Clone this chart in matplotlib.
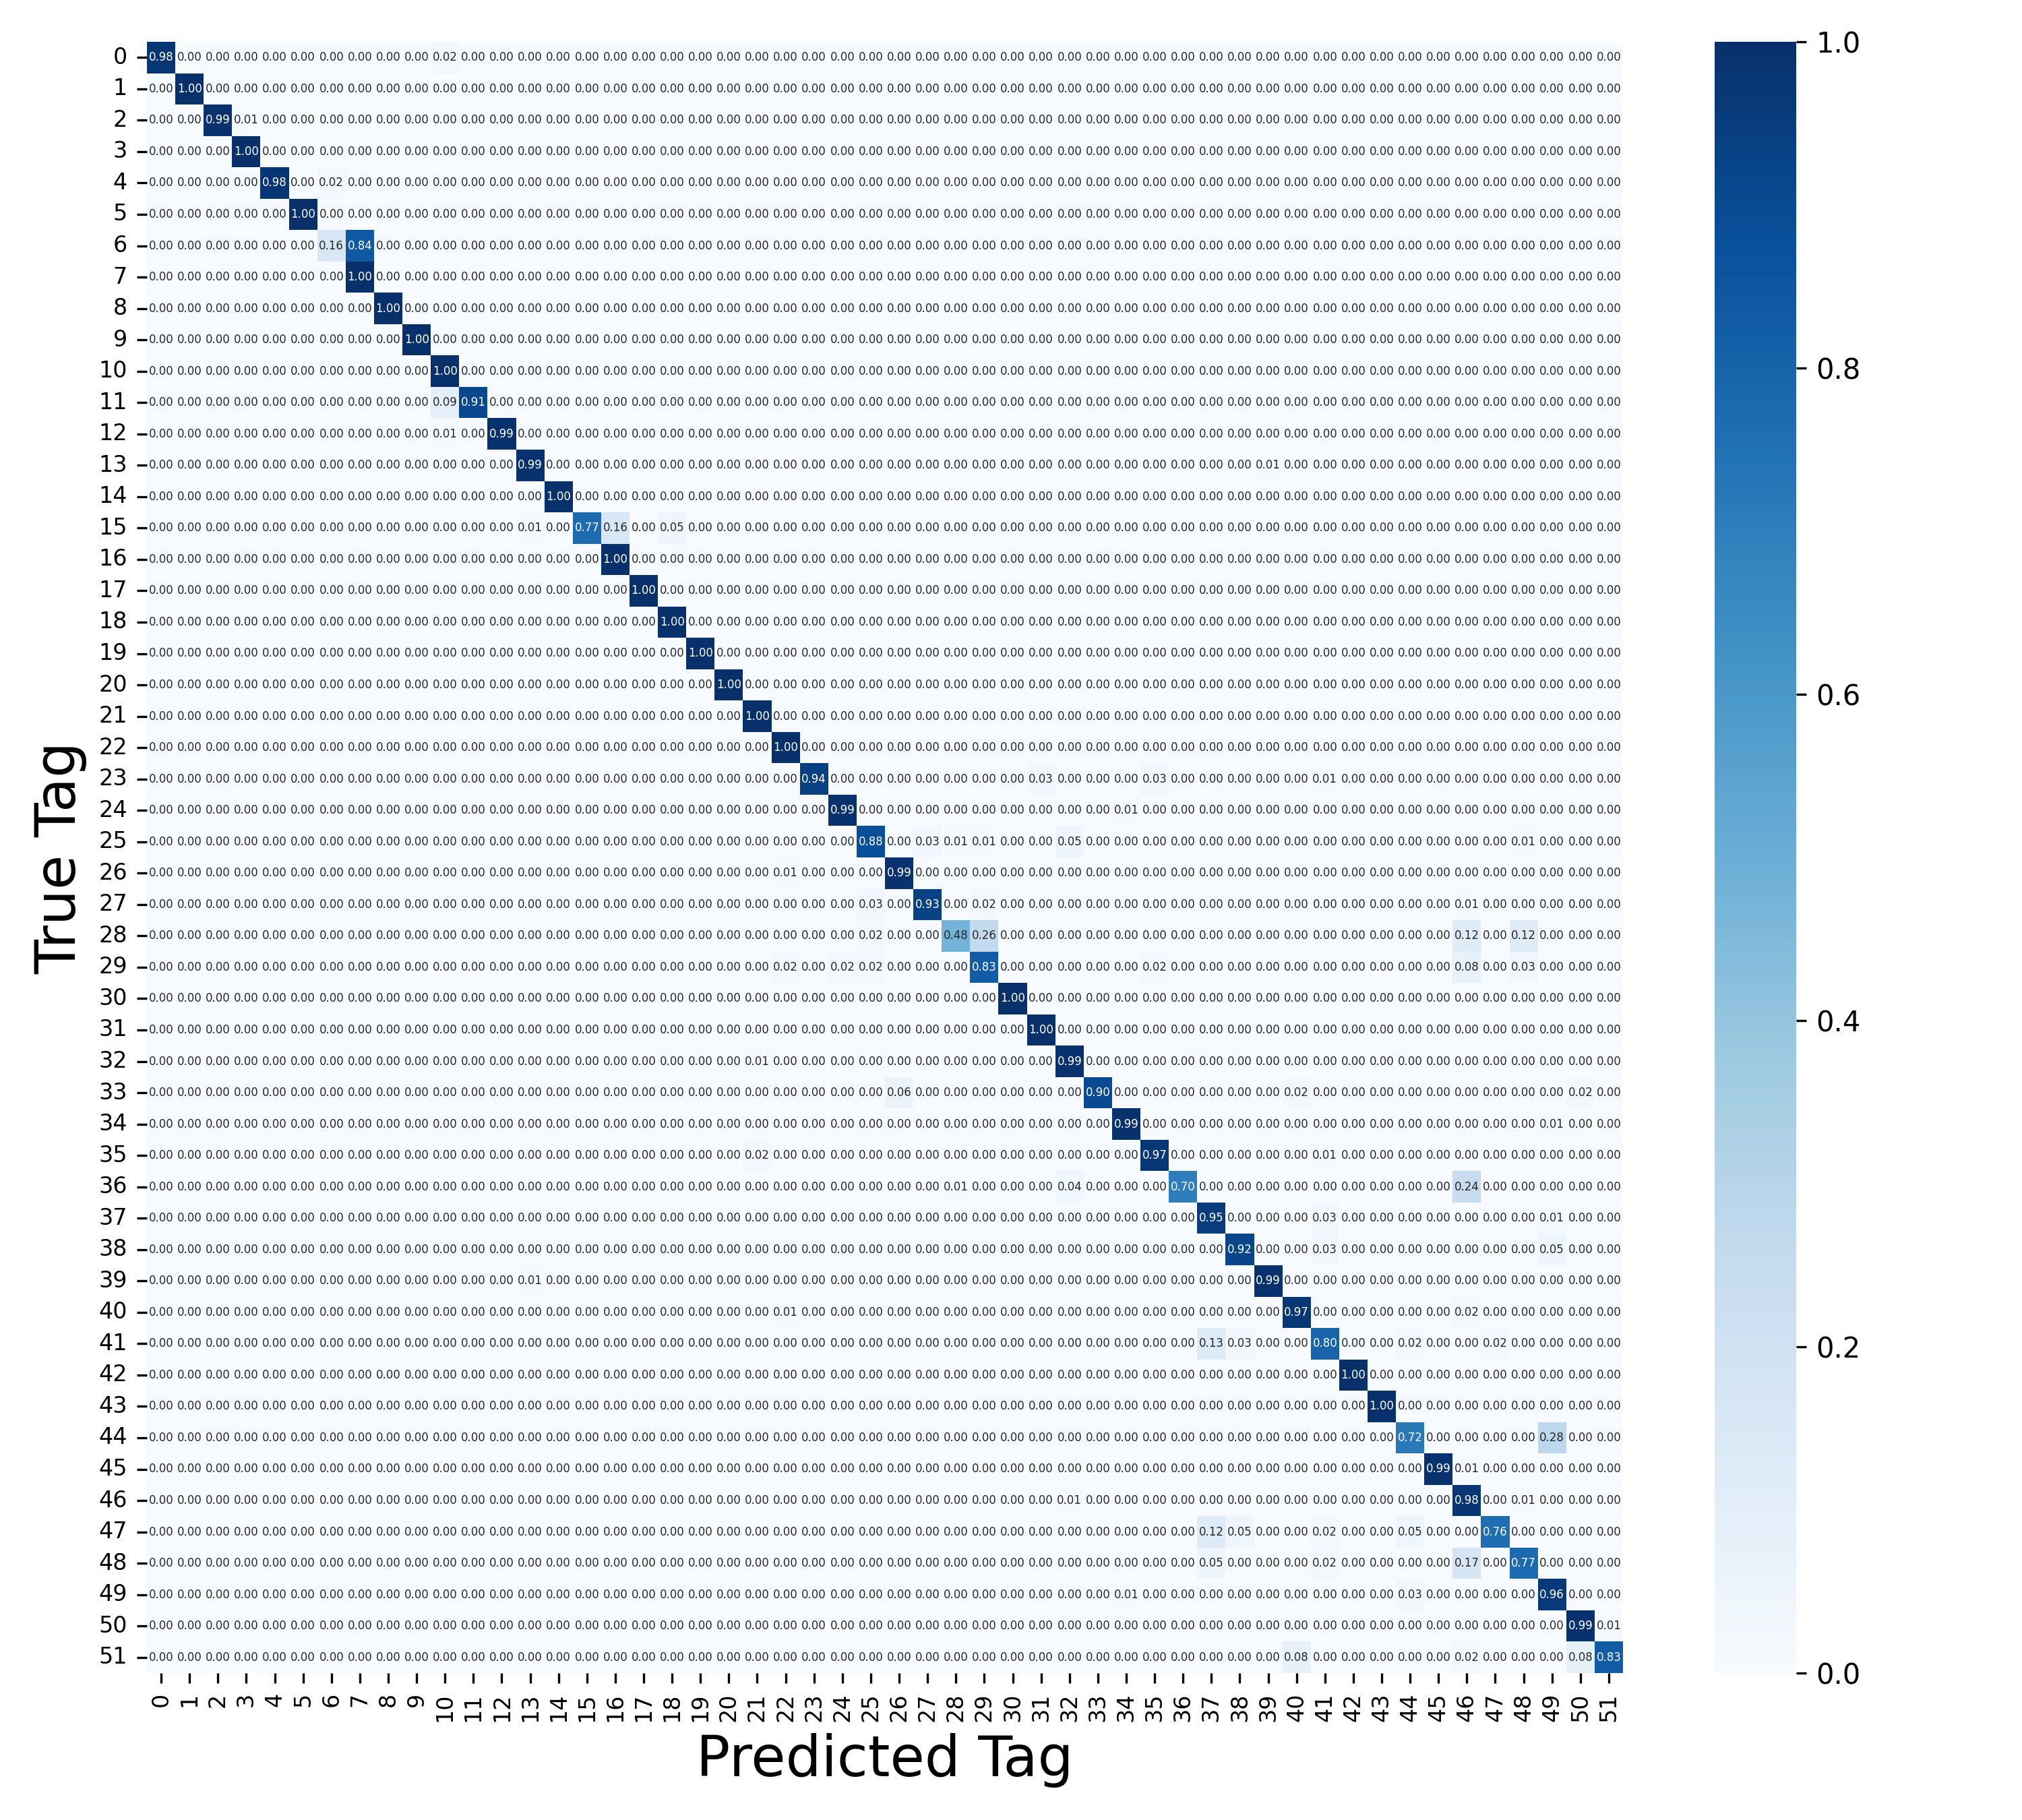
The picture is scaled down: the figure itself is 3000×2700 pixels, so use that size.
import matplotlib
matplotlib.use('Agg')
import matplotlib.pyplot as plt
import numpy as np
import seaborn as sns

tags = [str(i) for i in range(52)]

diagonal = [0.98, 1.00, 0.99, 1.00, 0.98, 1.00, 0.16, 1.00, 1.00, 1.00, 1.00, 0.91, 0.99,
            0.99, 1.00, 0.77, 1.00, 1.00, 1.00, 1.00, 1.00, 1.00, 1.00, 0.94, 0.99, 0.88,
            0.99, 0.93, 0.48, 0.83, 1.00, 1.00, 0.99, 0.90, 0.99, 0.97, 0.70, 0.95, 0.92,
            0.99, 0.97, 0.80, 1.00, 1.00, 0.72, 0.99, 0.98, 0.76, 0.77, 0.96, 0.99, 0.83]

# confusions outside the diagonal, everything else is 0
off_rows = [0, 2, 4, 6, 11, 12, 13, 15, 15, 15, 23, 23, 23, 24, 25, 25, 25, 25, 25,
            26, 27, 27, 27, 28, 28, 28, 28, 29, 29, 29, 29, 29, 29, 32, 33, 33, 33,
            34, 35, 35, 36, 36, 36, 37, 37, 38, 38, 39, 40, 40, 41, 41, 41, 41,
            44, 45, 46, 46, 47, 47, 47, 47, 48, 48, 48, 49, 49, 50, 51, 51, 51]
off_cols = [10, 3, 6, 7, 10, 10, 39, 13, 16, 18, 31, 35, 41, 34, 27, 28, 29, 32, 48,
            22, 25, 29, 46, 25, 29, 46, 48, 22, 24, 25, 35, 46, 48, 21, 26, 40, 50,
            49, 21, 41, 28, 32, 46, 41, 49, 41, 49, 13, 22, 46, 37, 38, 44, 47,
            49, 46, 32, 48, 37, 38, 41, 44, 37, 41, 46, 34, 44, 51, 40, 46, 50]
off_vals = [0.02, 0.01, 0.02, 0.84, 0.09, 0.01, 0.01, 0.01, 0.16, 0.05, 0.03, 0.03, 0.01,
            0.01, 0.03, 0.01, 0.01, 0.05, 0.01, 0.01, 0.03, 0.02, 0.01, 0.02, 0.26, 0.12,
            0.12, 0.02, 0.02, 0.02, 0.02, 0.08, 0.03, 0.01, 0.06, 0.02, 0.02, 0.01, 0.02,
            0.01, 0.01, 0.04, 0.24, 0.03, 0.01, 0.03, 0.05, 0.01, 0.01, 0.02, 0.13, 0.03,
            0.02, 0.02, 0.28, 0.01, 0.01, 0.01, 0.12, 0.05, 0.02, 0.05, 0.05, 0.02, 0.17,
            0.01, 0.03, 0.01, 0.08, 0.02, 0.08]

matrix = np.diag(diagonal)
matrix[off_rows, off_cols] = off_vals

fig = plt.figure(figsize=(10, 9), dpi=300)
ax = fig.add_axes([218 / 3000, 1 - 2482 / 2700, 2190 / 3000, 2420 / 2700])
cax = fig.add_axes([2544 / 3000, 1 - 2482 / 2700, 121 / 3000, 2420 / 2700])

sns.heatmap(matrix, annot=True, fmt='.2f', cmap='Blues', vmin=0, vmax=1, ax=ax, cbar_ax=cax,
            annot_kws={'size': 4}, xticklabels=tags, yticklabels=tags)

ax.tick_params(axis='x', labelsize=8, labelrotation=90)
ax.tick_params(axis='y', labelsize=8, labelrotation=0)
ax.set_xlabel('Predicted Tag', fontsize=20)
ax.set_ylabel('True Tag', fontsize=20)

fig.savefig('out.png', dpi=300)
